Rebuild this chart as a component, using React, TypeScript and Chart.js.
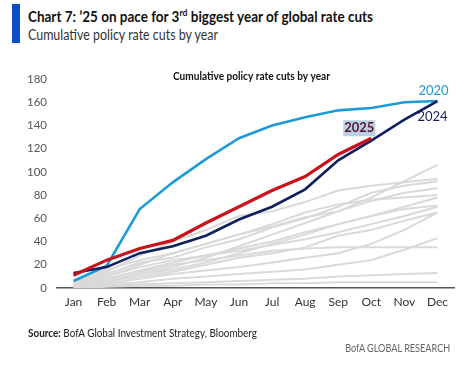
import React, { useEffect, useLayoutEffect, useRef } from "react";
import { Chart, registerables } from "chart.js";
Chart.register(...registerables);

const months = ["Jan", "Feb", "Mar", "Apr", "May", "Jun", "Jul", "Aug", "Sep", "Oct", "Nov", "Dec"];
const yTicks = [0, 20, 40, 60, 80, 100, 120, 140, 160, 180];

const y2020 = [6, 19, 68, 91, 111, 129, 140, 147, 153, 155, 160, 161];
const y2024 = [13, 18, 30, 36, 45, 59, 70, 85, 110, 127, 145, 161];
const y2025 = [11, 24, 34, 41, 56, 70, 84, 96, 115, 129, null, null];

const gray1 = [2, 6, 12, 18, 26, 36, 46, 56, 66, 78, 92, 106];
const gray2 = [4, 14, 28, 40, 50, 62, 66, 74, 84, 88, 91, 94];
const gray3 = [3, 12, 22, 26, 35, 42, 52, 60, 70, 82, 88, 92];
const gray4 = [2, 10, 20, 30, 38, 46, 53, 61, 66, 75, 82, 86];
const gray5 = [5, 16, 24, 30, 38, 46, 55, 65, 72, 76, 78, 80];
const gray6 = [1, 5, 12, 16, 22, 30, 38, 46, 55, 62, 68, 71];
const gray7 = [3, 8, 15, 22, 28, 32, 37, 42, 48, 55, 62, 70];
const gray8 = [2, 6, 10, 14, 20, 26, 30, 35, 45, 50, 58, 65];
const gray9 = [1, 3, 5, 8, 10, 12, 14, 16, 20, 24, 33, 43];
const gray10 = [2, 8, 14, 20, 24, 28, 32, 34, 35, 35, 35, 35];
const gray11 = [1, 2, 3, 4, 5, 6, 7, 8, 10, 11, 12, 13];
const gray12 = [0, 1, 2, 2, 3, 3, 4, 4, 5, 5, 5, 5];
const gray13 = [3, 10, 18, 24, 28, 34, 40, 48, 55, 62, 70, 78];
const gray14 = [1, 4, 8, 12, 15, 18, 22, 26, 30, 38, 50, 65];
const grayYears = [gray1, gray2, gray3, gray4, gray5, gray6, gray7, gray8, gray9, gray10, gray11, gray12, gray13, gray14];

const BLUE = "#1e9bd7";
const NAVY = "#101f5e";
const RED = "#c8141e";
const GRAY = "#d9d9d9";
const FONT = "Lato, 'Open Sans', sans-serif";

function Condensed(props: { width: number; style: React.CSSProperties; children: React.ReactNode; anchorRight?: boolean }) {
  const r = useRef<HTMLSpanElement>(null);
  useLayoutEffect(() => {
    const el = r.current;
    if (!el) return;
    el.style.transform = "none";
    const w = el.getBoundingClientRect().width;
    if (w > 0) el.style.transform = `scaleX(${props.width / w})`;
  });
  return (
    <span
      ref={r}
      style={{
        position: "absolute",
        display: "inline-block",
        whiteSpace: "nowrap",
        transformOrigin: props.anchorRight ? "right center" : "left center",
        ...props.style,
      }}
    >
      {props.children}
    </span>
  );
}

export default function App() {
  const ref = useRef<HTMLCanvasElement>(null);

  useEffect(() => {
    document.body.style.margin = "0";
    const labelPlugin = {
      id: "seriesLabels",
      afterDatasetsDraw(chart: any) {
        const ctx = chart.ctx;
        const xs = chart.scales.x;
        const ys = chart.scales.y;
        const area = chart.chartArea;
        ctx.save();
        ctx.textAlign = "center";
        ctx.textBaseline = "middle";

        // inner title, condensed to the reference width
        ctx.font = `bold 12px ${FONT}`;
        const t = "Cumulative policy rate cuts by year";
        const tw = ctx.measureText(t).width;
        ctx.save();
        ctx.translate((area.left + area.right) / 2 - 4, area.top - 3);
        ctx.scale(157 / tw, 1);
        ctx.fillStyle = "#111";
        ctx.fillText(t, 0, 0);
        ctx.restore();

        const xd = xs.getPixelForValue(11);
        const yd = ys.getPixelForValue(y2020[11]);
        ctx.font = `13px ${FONT}`;
        ctx.fillStyle = BLUE;
        ctx.fillText("2020", xd - 4, yd - 10);
        ctx.fillStyle = NAVY;
        ctx.fillText("2024", xd - 5, yd + 16);

        const xo = xs.getPixelForValue(9);
        const yo = ys.getPixelForValue(y2025[9] as number);
        ctx.font = `bold 13px ${FONT}`;
        const w = ctx.measureText("2025").width;
        const cx = xo - 12;
        const cy = yo - 10;
        ctx.fillStyle = "#b9d0e8";
        ctx.fillRect(cx - w / 2 - 1, cy - 8, w + 2, 16);
        ctx.fillStyle = "#5b1426";
        ctx.fillText("2025", cx, cy);
        ctx.restore();
      },
    };

    const datasets: any[] = [
      { label: "2025", data: y2025, borderColor: RED, borderWidth: 3.2 },
      { label: "2024", data: y2024, borderColor: NAVY, borderWidth: 2.6 },
      { label: "2020", data: y2020, borderColor: BLUE, borderWidth: 2.6 },
      ...grayYears.map((g, i) => ({ label: `g${i}`, data: g, borderColor: GRAY, borderWidth: 2 })),
    ].map((d) => ({ ...d, pointRadius: 0, tension: 0, fill: false, spanGaps: false }));

    const chart = new Chart(ref.current!, {
      type: "line",
      data: { labels: months, datasets },
      options: {
        animation: false,
        responsive: false,
        maintainAspectRatio: false,
        layout: { padding: { top: 79, right: 20, left: 0, bottom: 0 } },
        plugins: { legend: { display: false }, tooltip: { enabled: false }, title: { display: false } },
        scales: {
          x: {
            offset: true,
            grid: { display: false, drawTicks: false },
            border: { display: true, color: "#555", width: 1.5 },
            ticks: { color: "#333", font: { family: FONT, size: 12 }, padding: 7, maxRotation: 0, autoSkip: false },
            afterFit: (s: any) => { s.height = 81; },
          },
          y: {
            min: 0,
            max: 180,
            grid: { display: false, drawTicks: false },
            border: { display: false },
            afterBuildTicks: (s: any) => { s.ticks = yTicks.map((v) => ({ value: v })); },
            ticks: { color: "#555", font: { family: FONT, size: 11.5 }, padding: 10 },
            afterFit: (s: any) => { s.width = 57; },
          },
        },
      },
      plugins: [labelPlugin],
    });
    return () => chart.destroy();
  }, []);

  return (
    <div style={{ position: "relative", width: 474, height: 369, background: "#fff", overflow: "hidden", fontFamily: FONT }}>
      <div style={{ position: "absolute", left: 12, top: 4, width: 8, height: 39, background: "#0a4fc9" }} />
      <Condensed width={345} style={{ left: 28, top: 6, fontSize: 15.5, fontWeight: 700, color: "#111", lineHeight: "20px" }}>
        Chart 7: ’25 on pace for 3<sup style={{ fontSize: 10, lineHeight: 0 }}>rd</sup> biggest year of global rate cuts
      </Condensed>
      <Condensed width={190} style={{ left: 28, top: 25, fontSize: 14.5, color: "#333", lineHeight: "20px" }}>
        Cumulative policy rate cuts by year
      </Condensed>
      <canvas ref={ref} width={474} height={369} style={{ position: "absolute", left: 0, top: 0, width: 474, height: 369 }} />
      <Condensed width={229} style={{ left: 28, top: 325, fontSize: 12, color: "#222", lineHeight: "16px" }}>
        <b>Source:</b> BofA Global Investment Strategy, Bloomberg
      </Condensed>
      <Condensed width={105} anchorRight style={{ right: 24, top: 340, fontSize: 12, color: "#666", lineHeight: "16px" }}>
        BofA GLOBAL RESEARCH
      </Condensed>
    </div>
  );
}
